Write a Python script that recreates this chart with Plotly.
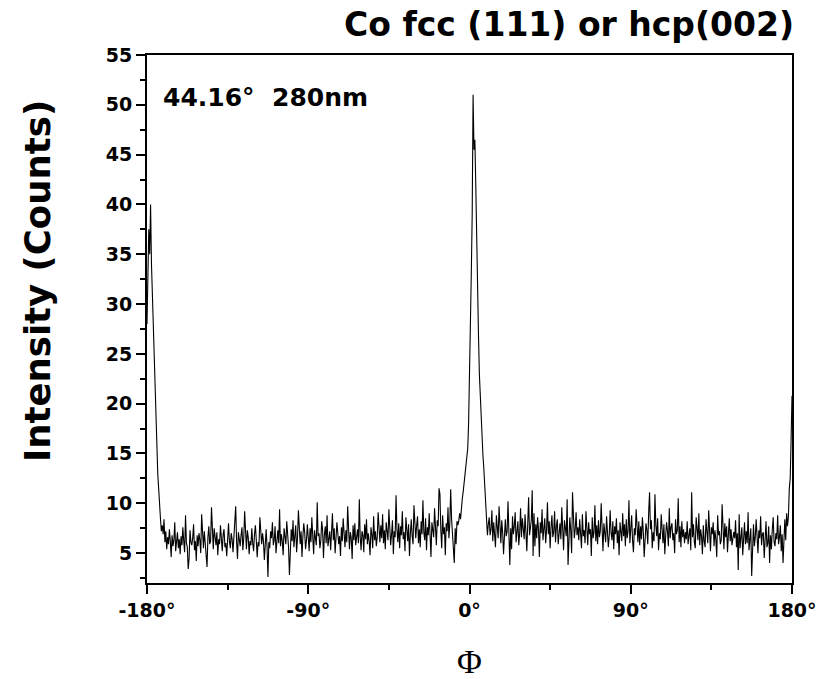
import numpy as np
import plotly.graph_objects as go

# Phi grid (degrees), 0.5 degree steps from -180 to 180
phi_start, phi_stop, phi_step = -180.0, 180.0, 0.5

# Intensity values, segment by segment
peak_left = [28, 35, 37.5, 35, 40, 34, 31, 27.5, 24, 20.5, 17.5, 15, 13, 11.5, 9.4, 8.5, 7.2]

base_left_a = [
    7.8, 6.9, 8.4, 6.1, 7.2, 5.4, 6.6, 5.9, 7.4, 6.2, 4.6, 6.8, 5.7, 6.3, 8.1, 5.2, 6.0, 7.1, 5.5, 6.4,
    4.9, 6.7, 5.8, 7.6, 6.2, 5.1, 8.8, 6.0, 5.6, 3.4, 4.5, 7.3, 6.1, 5.8, 6.5, 7.9, 5.3, 6.2, 4.2, 6.8,
    5.7, 7.0, 6.3, 5.0, 8.9, 6.4, 5.5, 7.2, 6.0, 5.3, 3.6, 6.6, 7.7, 5.9, 6.2, 9.6, 6.8, 5.4, 7.5, 6.1,
    5.8, 7.1, 4.8, 6.4, 5.9, 7.8, 6.3, 5.2, 6.9, 7.4, 5.6, 6.0, 4.7, 6.5, 8.0, 6.2, 5.5, 7.0, 6.4, 5.1,
    6.7, 8.3, 9.7, 6.2, 4.4, 7.1, 6.0, 5.7, 6.8, 7.6, 5.3, 6.5, 9.2, 6.1, 5.4, 7.3, 6.6, 4.9, 6.2, 5.8,
    7.5, 6.0, 5.2, 6.9, 7.8, 6.3, 4.6, 6.1, 5.7, 8.6, 6.4, 5.9, 7.0, 6.2, 4.3, 6.6, 7.4, 5.6, 2.6, 6.1,
    5.5, 7.2, 6.5, 8.1, 5.8, 6.3, 7.7, 5.0, 6.6, 7.3, 6.0, 9.4, 5.7, 6.9, 6.2, 4.8, 7.5, 6.4, 5.9, 8.2,
    6.7, 5.6, 2.8, 6.3,
]

base_left_b = [
    7.4, 6.2, 8.3, 5.6, 6.9, 7.8, 5.1, 6.5, 9.3, 6.8, 5.9, 7.2, 4.6, 6.7, 8.0, 7.1, 5.4, 6.3, 7.9, 6.6,
    5.2, 7.5, 6.1, 8.6, 6.9, 4.9, 7.3, 6.4, 5.8, 10.1, 6.7, 7.0, 5.5, 6.2, 8.2, 7.4, 4.5, 6.8, 7.7, 6.0,
    8.8, 5.7, 6.6, 7.2, 5.3, 6.9, 9.0, 6.3, 7.5, 5.0, 6.4, 8.1, 7.0, 5.9, 6.7, 4.7, 7.6, 6.2, 8.5, 6.8,
    5.6, 7.3, 6.1, 9.7, 6.9, 5.4, 7.1, 6.5, 4.4, 7.8, 6.3, 8.0, 5.8, 6.7, 7.4, 6.0, 10.4, 6.6, 5.3, 7.2,
    6.8, 5.1, 7.9, 6.4, 8.4, 5.9, 7.0, 6.2, 4.8, 7.6, 6.9, 5.5, 8.7, 6.3, 7.2, 5.7, 6.6, 9.1, 7.4, 6.1,
]

base_left_c = [
    7.8, 6.5, 8.9, 6.0, 7.3, 5.4, 8.1, 7.0, 6.3, 9.4, 7.6, 5.8, 6.9, 8.3, 4.9, 7.2, 6.6, 10.8, 7.4, 6.1,
    8.0, 5.5, 7.7, 6.8, 9.2, 6.4, 7.1, 5.2, 8.6, 7.5, 6.2, 7.9, 4.7, 7.0, 8.4, 6.7, 5.9, 9.8, 7.3, 6.5,
    7.8, 8.7, 6.0, 7.4, 5.6, 8.2, 6.9, 10.3, 7.1, 6.3, 8.5, 5.3, 7.6, 6.8, 9.0, 7.2, 4.6, 8.1, 7.5, 6.6,
    9.5, 7.0, 5.8, 8.3, 7.7, 11.5, 10.9, 7.3, 5.5, 8.8, 6.9, 7.6, 4.8, 8.0, 7.2, 9.6, 6.5, 7.9, 11.4, 8.4,
    7.1, 6.2, 4.0, 7.5, 5.9, 8.2, 7.8,
]

peak_center = [
    8.2, 9.0, 8.4, 9.8, 10.5, 11.2, 12.0, 12.9, 14.2, 14.8, 15.5, 18.0, 22.0, 27.0, 33.0, 39.0, 51.0,
    45.5, 46.5, 42.0, 35.5, 31.0, 27.0, 23.0, 20.5, 18.5, 16.5, 14.8, 13.5, 12.0, 10.0, 8.2, 6.8,
]

base_right_a = [
    7.9, 8.6, 6.8, 7.4, 9.3, 6.2, 8.1, 7.0, 5.6, 8.8, 7.3, 6.5, 9.7, 7.8, 6.0, 8.3, 7.1, 4.9, 7.6, 8.4,
    6.7, 7.2, 10.2, 6.3, 3.8, 7.5, 5.4, 8.7, 6.9, 7.7, 9.1, 6.1, 7.4, 8.2, 5.8, 7.0, 9.5, 6.6, 8.5, 7.2,
    6.4, 8.9, 7.3, 5.2, 8.0, 10.6, 6.8, 7.6, 8.3, 11.3, 4.7, 9.0, 5.7, 7.9, 6.5, 8.6, 7.4, 4.6, 8.1, 7.0,
    9.4, 6.3, 7.8, 8.5, 6.0, 7.3, 10.1, 6.9, 8.2, 5.5, 7.6, 8.8, 6.6, 7.1, 9.2, 6.1, 7.7, 8.4, 5.9, 7.2,
    8.0, 6.4, 9.6, 7.5, 5.3, 8.3, 7.0, 6.7, 10.4, 3.8, 6.2, 8.6, 7.3, 5.0, 11.1, 8.9, 6.5, 7.4, 9.1, 6.8,
]

base_right_b = [
    7.6, 6.3, 8.4, 7.0, 5.5, 8.9, 6.7, 7.3, 6.0, 9.2, 7.5, 5.8, 8.1, 6.9, 7.4, 4.7, 8.6, 6.5, 7.1, 9.8,
    6.2, 7.8, 5.9, 8.3, 6.6, 7.2, 10.0, 6.4, 5.2, 8.0, 7.0, 6.1, 8.7, 7.5, 5.6, 6.8, 9.3, 7.1, 6.3, 8.2,
    5.4, 7.7, 6.9, 8.5, 6.0, 7.3, 4.8, 8.1, 7.4, 6.2, 9.0, 6.7, 7.9, 5.7, 8.4, 6.5, 7.2, 10.3, 6.0, 7.6,
    8.8, 6.3, 5.1, 7.5, 6.8, 9.4, 7.0, 6.1, 8.2, 5.8, 7.7, 6.4, 8.6, 7.2, 4.6, 6.9, 8.0, 7.3, 5.9, 9.1,
    11.1, 7.4, 8.3, 5.5, 7.1, 6.2, 10.9, 7.8, 6.7, 8.5, 5.3, 7.0, 6.4, 8.9, 7.5, 6.0, 7.9, 4.9, 6.8, 8.1,
    7.2, 5.7, 9.5, 6.5, 7.6, 8.0, 6.3, 7.0, 5.0, 8.4, 6.9, 7.3, 10.5, 6.1, 7.7, 5.6, 8.2, 6.6, 7.4, 6.0,
]

base_right_c = [
    7.1, 6.4, 8.2, 5.9, 6.8, 7.5, 5.3, 11.1, 6.6, 7.9, 6.1, 5.5, 8.6, 7.0, 6.3, 9.0, 5.8, 7.4, 6.7, 4.9,
    7.8, 6.2, 5.6, 8.4, 7.1, 6.0, 9.3, 6.5, 5.2, 7.6, 6.9, 8.1, 5.7, 7.3, 6.4, 4.6, 8.8, 6.8, 7.2, 5.9,
    6.3, 9.9, 7.0, 5.4, 8.0, 6.6, 7.7, 5.1, 6.9, 8.5, 6.2, 7.4, 5.8, 6.7, 7.1, 6.5, 8.3, 5.6, 7.0, 3.3,
    8.9, 5.5, 6.7, 7.6, 4.8, 6.3, 8.1, 5.9, 7.2, 6.0, 9.1, 5.3, 6.8, 7.5, 2.7, 6.4, 7.9, 5.7, 6.6, 8.4,
    6.2, 5.0, 7.3, 6.5, 8.7, 5.8, 6.9, 7.1, 4.5, 6.3, 8.2, 5.6, 6.0, 7.7, 4.0, 6.8, 5.4, 7.4, 8.6, 6.1,
    5.7, 7.0, 6.4, 8.8, 5.9, 6.6, 7.8, 5.2, 6.9, 4.0, 7.5, 8.4, 6.3, 9.0, 7.7,
]

peak_right = [8.7, 11.5, 12.5, 16.4, 20.8]

intensity = (peak_left + base_left_a + base_left_b + base_left_c + peak_center
             + base_right_a + base_right_b + base_right_c + peak_right)
phi = np.round(np.arange(phi_start, phi_stop + phi_step / 2, phi_step), 2)
assert len(phi) == len(intensity), (len(phi), len(intensity))

x_tickvals = [-180, -90, 0, 90, 180]
x_ticktext = ["-180°", "-90°", "0°", "90°", "180°"]

title_text = "Co fcc (111) or hcp(002)"
note_text = "44.16°\u00a0\u00a0280nm"
y_title = "Intensity (Counts)"
x_title = "Φ"

fig = go.Figure()
fig.add_trace(go.Scatter(x=phi, y=intensity, mode="lines",
                         line=dict(color="black", width=1.1), hoverinfo="skip"))

sans = "DejaVu Sans"
tickfont = dict(family=sans, size=19, color="black", weight="bold")

fig.update_layout(
    width=829, height=679,
    margin=dict(l=147, r=32, t=55, b=96),
    plot_bgcolor="white", paper_bgcolor="white",
    showlegend=False,
    xaxis=dict(
        range=[-180, 180], tickvals=x_tickvals, ticktext=x_ticktext,
        ticks="outside", ticklen=9, tickwidth=2, tickcolor="black",
        showline=True, linewidth=2, linecolor="black", mirror=True,
        showgrid=False, zeroline=False, tickfont=tickfont,
        minor=dict(dtick=45, tick0=0, ticks="outside", ticklen=5,
                   tickwidth=2, tickcolor="black", showgrid=False),
    ),
    yaxis=dict(
        range=[2, 55], dtick=5, tick0=0,
        ticks="outside", ticklen=9, tickwidth=2, tickcolor="black",
        showline=True, linewidth=2, linecolor="black", mirror=True,
        showgrid=False, zeroline=False, tickfont=tickfont,
        minor=dict(dtick=2.5, tick0=0, ticks="outside", ticklen=5,
                   tickwidth=2, tickcolor="black", showgrid=False),
    ),
    annotations=[
        dict(text=title_text, xref="paper", yref="paper", x=1.006, y=1.057,
             xanchor="right", yanchor="middle", showarrow=False,
             font=dict(family=sans, size=33, color="black", weight="bold")),
        dict(text=note_text, xref="paper", yref="paper", x=0.022, y=0.92,
             xanchor="left", yanchor="middle", showarrow=False,
             font=dict(family=sans, size=25, color="black", weight="bold")),
        dict(text=y_title, xref="paper", yref="paper", x=-0.169, y=0.572,
             xanchor="center", yanchor="middle", textangle=-90, showarrow=False,
             font=dict(family=sans, size=35.5, color="black", weight="bold")),
        dict(text=x_title, xref="paper", yref="paper", x=0.5, y=-0.149,
             xanchor="center", yanchor="middle", showarrow=False,
             font=dict(family="Liberation Serif", size=34, color="black")),
    ],
)

fig.write_html("out.html")
